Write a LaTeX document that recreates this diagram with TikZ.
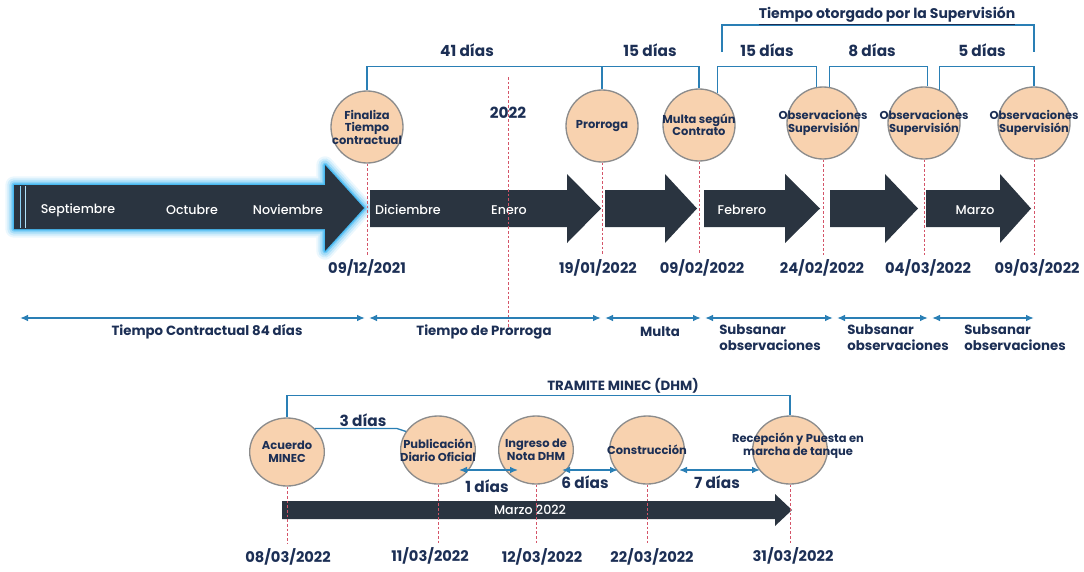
\documentclass[tikz,border=0pt]{standalone}
\usepackage{fontspec}
\setmainfont{Poppins}
\newfontfamily\medfont{Poppins Medium}
\usetikzlibrary{shapes.geometric,arrows.meta,calc}

\definecolor{navy}{RGB}{28,47,85}
\definecolor{linkblue}{RGB}{42,127,181}
\definecolor{slate}{RGB}{42,52,64}
\definecolor{peach}{RGB}{248,210,175}
\definecolor{ringgray}{RGB}{140,140,140}
\definecolor{guidered}{RGB}{212,84,104}
\definecolor{glowblue}{RGB}{60,180,240}

\tikzset{every picture/.style={line width=0.75pt}}
\tikzset{
  evt/.style={circle, draw=ringgray, line width=1pt, fill=peach, minimum size=54pt, inner sep=0pt},
  evb/.style={ellipse, draw=ringgray, line width=1pt, fill=peach, minimum width=56pt, minimum height=51pt, inner sep=0pt},
  ctxt/.style={align=center, text=navy, font=\bfseries\fontsize{8.6}{9.4}\selectfont, inner sep=0pt},
  lbl/.style={text=navy, font=\bfseries\fontsize{11.5}{13}\selectfont},
  fecha/.style={text=navy, font=\bfseries\fontsize{11}{13}\selectfont},
  mes/.style={text=white, font=\medfont\fontsize{9.5}{11}\selectfont},
  bar/.style={fill=slate},
  brk/.style={draw=linkblue, line width=1pt},
  span/.style={draw=linkblue, line width=1.3pt, shorten <=1.5pt, shorten >=1.5pt, {Latex[length=6pt,width=5pt]}-{Latex[length=6pt,width=5pt]}},
  guia/.style={draw=guidered, line width=0.7pt, dash pattern=on 2pt off 1.5pt},
}

\begin{document}
\begin{tikzpicture}[x=0.75pt,y=0.75pt,yscale=-1,xscale=1]
\path[use as bounding box] (0,0) rectangle (1084,571);

%Shape: Glow arrow
\foreach \w/\o in {13/0.10,10/0.16,7/0.25,4/0.45,2/0.8}
  \draw[glowblue, line width=\w pt, opacity=\o, line join=round] (14,185) -- (325,185) -- (325,165) -- (364,208) -- (325,251) -- (325,229) -- (14,229) -- cycle;
\fill[bar] (14,185) -- (325,185) -- (325,165) -- (364,208) -- (325,251) -- (325,229) -- (14,229) -- cycle;
\draw[glowblue!60, line width=0.9pt] (20.5,186) -- (20.5,228);
\draw[glowblue!40, line width=0.6pt] (25.5,186) -- (25.5,228);

%Shape: Dark arrows
\foreach \a/\b/\c in {370/567/601, 605/665/697, 704/785/820, 830/885/918, 926/1000/1031}
  \fill[bar] (\a,190) -- (\b,190) -- (\b,174) -- (\c,208.5) -- (\b,243) -- (\b,227) -- (\a,227) -- cycle;

%Text: months
\node[mes] (sep) at (78,210) {Septiembre};
\node[mes] (oct) at (192,210) {Octubre};
\node[mes] (nov) at (288,210) {Noviembre};
\node[mes] (dic) at (408,210) {Diciembre};
\node[mes] (ene) at (509,210) {Enero};
\node[mes] (feb) at (742,210) {Febrero};
\node[mes] (mar) at (975,210) {Marzo};

%Shape: Circles
\node[evt] (fin) at (367,127) {};
\node[evt] (pro) at (602,126) {};
\node[evt] (mul) at (699,125) {};
\node[evt] (ob1) at (823,123) {};
\node[evt] (ob2) at (924,123) {};
\node[evt] (ob3) at (1034,123) {};
\node[ctxt] (fint) at (fin) {Finaliza\\Tiempo\\contractual};
\node[ctxt] (prot) at (pro) {Prorroga};
\node[ctxt] (mult) at (mul) {Multa según\\Contrato};
\node[ctxt] (ob1t) at (ob1) {Observaciones\\Supervisión};
\node[ctxt] (ob2t) at (ob2) {Observaciones\\Supervisión};
\node[ctxt] (ob3t) at (ob3) {Observaciones\\Supervisión};

%Text: dates
\node[fecha] (d1) at (367,268) {09/12/2021};
\node[fecha] (d2) at (598,268) {19/01/2022};
\node[fecha] (d3) at (702,268) {09/02/2022};
\node[fecha] (d4) at (822,268) {24/02/2022};
\node[fecha] (d5) at (928,268) {04/03/2022};
\node[fecha] (d6) at (1037,268) {09/03/2022};

%Straight Lines: guides
\draw[guia] (fin.south) -- (fin.south |- d1.north);
\draw[guia] (pro.south) -- (pro.south |- d2.north);
\draw[guia] (mul.south) -- (mul.south |- d3.north);
\draw[guia] (ob1.south) -- (ob1.south |- d4.north);
\draw[guia] (ob2.south) -- (ob2.south |- d5.north);
\draw[guia] (ob3.south) -- (ob3.south |- d6.north);
\coordinate (y22a) at (508,77);
\coordinate (y22b) at (508,330);
\draw[guia] (y22a) -- (y22b);
\node[lbl] (y22) at (508,113) {2022};

%Straight Lines: brackets
\draw[brk] (fin.north) -- ++(0,-24) -| (pro.north);
\draw[brk] (pro.north) -- ++(0,-23) -| (mul.north);
\draw[brk] (mul.60) -- ++(0,-27) -| (ob1.100);
\draw[brk] (ob1.80) -- ++(0,-20.5) -| (ob2.85);
\draw[brk] (ob2.65) -- ++(0,-23.4) -| (ob3.north);
\node[lbl] (k41) at (467,50) {41 días};
\node[lbl] (k15a) at (650,50) {15 días};
\node[lbl] (k15b) at (767,50) {15 días};
\node[lbl] (k8) at (872,50) {8 días};
\node[lbl] (k5) at (982,50) {5 días};
\coordinate (sv1) at (722,52);
\coordinate (sv2) at (1034,52);
\draw[brk] (sv1) -- ++(0,-27) -| (sv2);
\node[lbl, font=\bfseries\fontsize{10.5}{12}\selectfont] (sup) at (887,16) {\underline{Tiempo otorgado por la Supervisión}};

%Arrows: periods
\coordinate (s0) at (18,318);
\coordinate (s1) at (367,318);
\coordinate (s2) at (603,318);
\coordinate (s3) at (703,318);
\coordinate (s4) at (835,318);
\coordinate (s5) at (930,318);
\coordinate (s6) at (1036,318);
\draw[span] (s0) -- (s1);
\draw[span] (s1) -- (s2);
\draw[span] (s2) -- (s3);
\draw[span] (s3) -- (s4);
\draw[span] (s4) -- (s5);
\draw[span] (s5) -- (s6);
\node[lbl, font=\bfseries\fontsize{10}{12}\selectfont] (tc) at (207,332) {Tiempo Contractual 84 días};
\node[lbl, font=\bfseries\fontsize{10}{12}\selectfont] (tp) at (484,332) {Tiempo de Prorroga};
\node[lbl, font=\bfseries\fontsize{10}{12}\selectfont] (mu) at (660,332) {Multa};
\node[lbl, font=\bfseries\fontsize{10}{12}\selectfont, align=left] (sb1) at (770,338) {Subsanar\\observaciones};
\node[lbl, font=\bfseries\fontsize{10}{12}\selectfont, align=left] (sb2) at (898,338) {Subsanar\\observaciones};
\node[lbl, font=\bfseries\fontsize{10}{12}\selectfont, align=left] (sb3) at (1015,338) {Subsanar\\observaciones};

%Shape: Marzo bar
\fill[bar] (282,501) -- (775,501) -- (775,494) -- (792,510) -- (775,526) -- (775,519) -- (282,519) -- cycle;
\node[mes] (mz) at (530,510) {Marzo 2022};

%Shape: Ellipses
\node[evb] (acu) at (287,452) {};
\node[evb] (pub) at (438,450) {};
\node[evb] (ing) at (536,450) {};
\node[evb] (con) at (647,450) {};
\node[evb] (rec) at (790,450) {};
\node[ctxt] (acut) at (acu) {Acuerdo\\MINEC};
\node[ctxt] (pubt) at (pub) {Publicación\\Diario Oficial};
\node[ctxt] (ingt) at (ing) {Ingreso de\\Nota DHM};
\node[ctxt] (cont) at (con) {Construcción};
\node[ctxt] (rect) at (798,446) {Recepción y Puesta en\\marcha de tanque};

%Straight Lines: tramite
\draw[brk] (acu.north) -- ++(0,-22) -| (rec.north);
\node[lbl, font=\bfseries\fontsize{10}{12}\selectfont] (tra) at (623,386) {TRAMITE MINEC (DHM)};
\draw[brk] (acu.40) -- ++(82,0) -- (pub.150);
\node[lbl] (k3) at (363,420) {3 días};
\draw[span, line width=1pt] ($(pub.center)+(19,20)$) -- ($(ing.center)+(-16,20)$);
\draw[span, line width=1pt] ($(ing.center)+(24,20)$) -- ($(con.center)+(-27,20)$);
\draw[span, line width=1pt] ($(con.center)+(30,20)$) -- ($(rec.center)+(-28,20)$);
\node[lbl] (k1) at (487,486) {1 días};
\node[lbl] (k6) at (585,482) {6 días};
\node[lbl] (k7) at (717,482) {7 días};

%Text: dates below
\node[fecha] (e1) at (288,557) {08/03/2022};
\node[fecha] (e2) at (430,556) {11/03/2022};
\node[fecha] (e3) at (542,557) {12/03/2022};
\node[fecha] (e4) at (652,557) {22/03/2022};
\node[fecha] (e5) at (793,556) {31/03/2022};
\draw[guia] (acu.south) -- (acu.south |- e1.north);
\draw[guia] (pub.south) -- (pub.south |- e2.north);
\draw[guia] (ing.south) -- (ing.south |- e3.north);
\draw[guia] (con.south) -- (con.south |- e4.north);
\draw[guia] (rec.south) -- (rec.south |- e5.north);

\end{tikzpicture}
\end{document}
